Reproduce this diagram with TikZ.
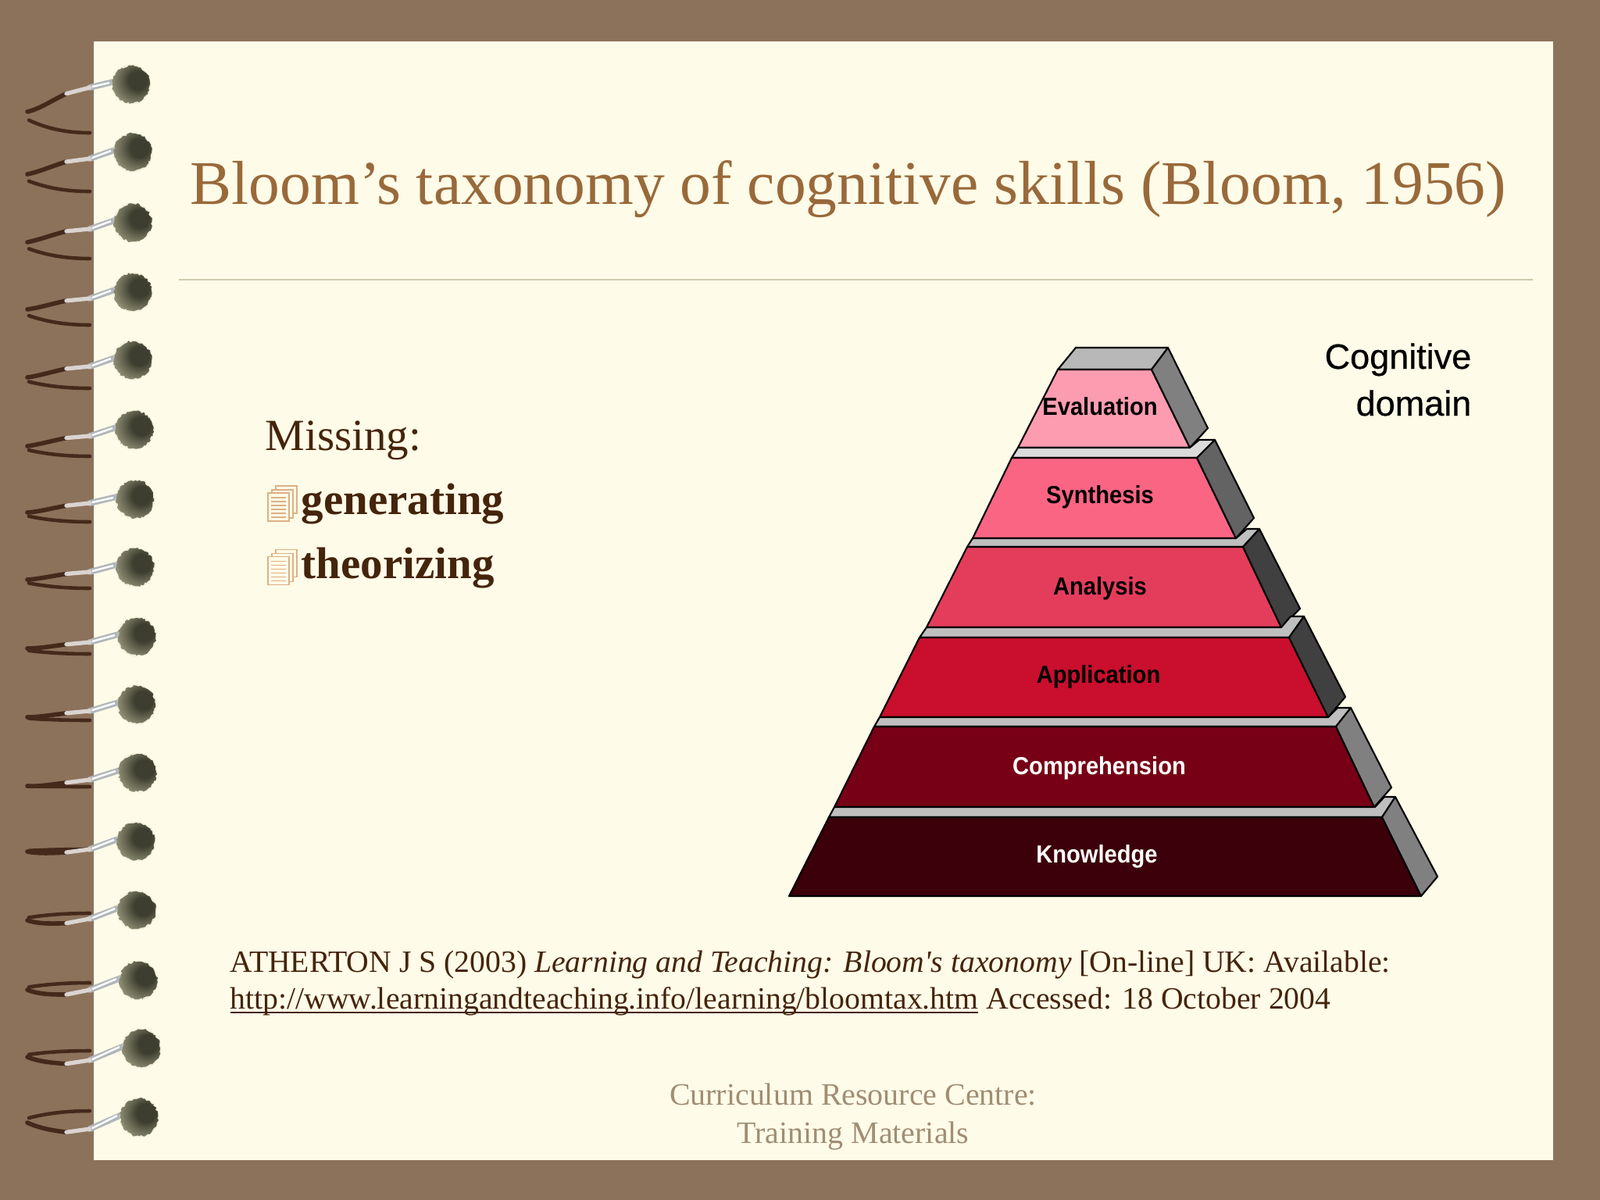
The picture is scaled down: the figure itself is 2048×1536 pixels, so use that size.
\documentclass[tikz,border=0pt]{standalone}
\usepackage{fontspec}
\setmainfont{Liberation Serif}
\newfontfamily\tierfont[FakeStretch=0.92]{Liberation Sans}
\newfontfamily\domainfont[FakeBold=0.5]{Liberation Sans}
\usepackage{xcolor}
\usepackage{tikz}
\usetikzlibrary{positioning, decorations.pathmorphing}

\definecolor{deskbrown}{HTML}{8C725B}
\definecolor{sheetcream}{HTML}{FEFBE8}
\definecolor{titlebrown}{HTML}{99693A}
\definecolor{rulegrey}{HTML}{CFCBB0}
\definecolor{inkbrown}{HTML}{45240C}
\definecolor{footbrown}{HTML}{A08D73}
\definecolor{icontan}{HTML}{DDB083}
\definecolor{wirebrown}{HTML}{45291B}
\definecolor{wiresilver}{HTML}{B0B7BB}
\definecolor{evalpink}{HTML}{FD9CB0}
\definecolor{synthpink}{HTML}{FA6584}
\definecolor{analyred}{HTML}{E43D5C}
\definecolor{applyred}{HTML}{C90F2D}
\definecolor{comprered}{HTML}{770016}
\definecolor{knowred}{HTML}{3C000A}
\definecolor{headdark}{HTML}{3E3E30}
\definecolor{headmid}{HTML}{85856C}
\definecolor{headpale}{HTML}{D8D8BC}

\pgfdeclareradialshading{headball}{\pgfpoint{10bp}{6bp}}{
  color(0bp)=(headdark); color(12bp)=(headdark); color(30bp)=(headmid);
  color(52bp)=(headpale); color(100bp)=(headpale)}

\tikzset{
  tier/.style={draw=black, line width=0.6pt, line join=round},
  tierlabel/.style={font=\tierfont\bfseries\fontsize{9}{11}\selectfont, inner sep=0pt},
  domainlabel/.style={font=\domainfont\fontsize{12.8}{15}\selectfont, inner sep=0pt, anchor=base east},
  bodytext/.style={font=\fontsize{11.29}{13}\selectfont, inner sep=0pt, anchor=base west, text=inkbrown},
  missingtext/.style={font=\fontsize{16.2}{19}\selectfont, inner sep=0pt, anchor=base west, text=inkbrown},
  foottext/.style={font=\fontsize{11.35}{13}\selectfont, inner sep=0pt, anchor=base, text=footbrown},
  docpage/.style={draw=icontan, fill=sheetcream, line width=0.35pt},
  backwire/.style={draw=wirebrown, line width=1.3pt, line cap=round},
  frontwire/.style={draw=wirebrown, line width=1.6pt, line cap=round},
  whitewire/.style={draw=white!80!wirebrown, line width=1.5pt, line cap=round},
  silverwire/.style={draw=wiresilver, line width=2.2pt, line cap=round},
}

\begin{document}
\begin{tikzpicture}[x=0.01cm, y=-0.01cm]
\useasboundingbox (0,0) rectangle (2048,1536);
\fill[deskbrown] (0,0) rectangle (2048,1536);
\fill[sheetcream] (120,53) rectangle (1988,1485);

\foreach \hx/\hy/\wf/\wt/\wb/\wk in {
  168/108/4/35/62/-3, 170/195/8/28/50/-3, 170/285/8/25/46/-3, 170/374/8/22/42/-2,
  170/461/8/22/36/-2, 172/550/8/21/34/-2, 173/639/5/17/29/-1, 173/726/6/16/27/-1,
  175/815/7/15/22/0, 175/902/8/16/20/0, 176/989/9/17/18/1, 174/1077/10/13/10/3,
  175/1165/11/13/4/5, 177/1255/12/12/3/6, 181/1342/15/11/3/6, 178/1430/15/7/-8/7} {
  \draw[backwire] (37,{\hy+\wt+0.4*(\wb-\wt)}) .. controls (60,{\hy+\wt+0.8*(\wb-\wt)}) and (85,\hy+\wb) .. (115,\hy+\wb);
  \draw[frontwire] (85,{\hy+\wf+0.35*(\wt-\wf)+\wk}) .. controls (68,{\hy+\wf+0.6*(\wt-\wf)+\wk}) and (50,\hy+\wt+\wk) .. (35,\hy+\wt);
  \draw[silverwire] (115,\hy+\wf) -- (\hx-20,\hy-4);
  \draw[whitewire] (85,{\hy+\wf+0.35*(\wt-\wf)+\wk}) -- (115,\hy+\wf);
  \draw[white, line width=0.7pt] (118,\hy+\wf-1) -- (\hx-28,\hy-2);
  \fill[headpale, opacity=0.3] (\hx,\hy) circle[radius=25.5];
  \path[decorate, decoration={random steps, segment length=0.7pt, amplitude=0.4pt}, shading=headball] (\hx,\hy) circle[radius=24];
}

\node[inner sep=0pt, anchor=base west, text=titlebrown, font=\fontsize{22.6}{26}\selectfont] (title) at (243,261) {Bloom’s taxonomy of cognitive skills (Bloom, 1956)};
\draw[rulegrey, line width=0.35pt] (229,358) -- (1962,358);

\node[missingtext] (missing) at (339,576) {Missing:};
\foreach \iy in {0,81.7} {
  \draw[docpage] (353,{622+\iy}) rectangle (380,{657+\iy});
  \draw[docpage] (348,{627+\iy}) rectangle (375,{663+\iy});
  \draw[docpage] (343,{631+\iy}) rectangle (370,{667+\iy});
  \foreach \ly in {637,642,647,652,657,662}
    \draw[icontan, line width=0.3pt] (347,{\ly+\iy}) -- (366,{\ly+\iy});
}
\node[missingtext, font=\bfseries\fontsize{16.2}{19}\selectfont] (generating) at (385,658) {generating};
\node[missingtext, font=\bfseries\fontsize{16.2}{19}\selectfont] (theorizing) at (385,740) {theorizing};

\filldraw[tier, fill=black!28] (1377,445) -- (1495,445) -- (1474,473) -- (1354,473) -- cycle;
\filldraw[tier, fill=evalpink] (1354,473) -- (1474,473) -- (1523,573) -- (1303,573) -- cycle;
\filldraw[tier, fill=black!50] (1474,473) -- (1495,445) -- (1546,548) -- (1523,573) -- cycle;
\filldraw[tier, fill=black!14] (1303,573) -- (1523,573) -- (1535,563) -- (1555,563) -- (1532,586) -- (1295,586) -- cycle;
\filldraw[tier, fill=synthpink] (1295,586) -- (1532,586) -- (1582,689) -- (1245,689) -- cycle;
\filldraw[tier, fill=black!61] (1532,586) -- (1555,563) -- (1605,663) -- (1582,689) -- cycle;
\filldraw[tier, fill=black!25] (1245,689) -- (1582,689) -- (1596,677) -- (1612,677) -- (1591,700) -- (1238,700) -- cycle;
\filldraw[tier, fill=analyred] (1238,700) -- (1591,700) -- (1640,803) -- (1186,803) -- cycle;
\filldraw[tier, fill=black!75] (1591,700) -- (1612,677) -- (1664,779) -- (1640,803) -- cycle;
\filldraw[tier, fill=black!25] (1186,803) -- (1640,803) -- (1652,789) -- (1669,789) -- (1650,816) -- (1177,816) -- cycle;
\filldraw[tier, fill=applyred] (1177,816) -- (1650,816) -- (1700,918) -- (1126,918) -- cycle;
\filldraw[tier, fill=black!75] (1650,816) -- (1669,789) -- (1722,892) -- (1700,918) -- cycle;
\filldraw[tier, fill=black!25] (1126,918) -- (1700,918) -- (1712,906) -- (1729,906) -- (1710,930) -- (1119,930) -- cycle;
\filldraw[tier, fill=comprered] (1119,930) -- (1710,930) -- (1759,1033) -- (1068,1033) -- cycle;
\filldraw[tier, fill=black!50] (1710,930) -- (1729,906) -- (1781,1008) -- (1759,1033) -- cycle;
\filldraw[tier, fill=black!25] (1068,1033) -- (1760,1033) -- (1772,1020) -- (1786,1020) -- (1769,1046) -- (1061,1046) -- cycle;
\filldraw[tier, fill=knowred] (1061,1046) -- (1769,1046) -- (1819,1147) -- (1010,1147) -- cycle;
\filldraw[tier, fill=black!50] (1769,1046) -- (1786,1020) -- (1840,1122) -- (1819,1147) -- cycle;

\node[tierlabel] (evaluation) at (1408,520) {Evaluation};
\node[tierlabel] (synthesis) at (1408,636) {Synthesis};
\node[tierlabel] (analysis) at (1408,753) {Analysis};
\node[tierlabel] (application) at (1406,866) {Application};
\node[tierlabel, text=white] (comprehension) at (1407,983) {Comprehension};
\node[tierlabel, text=white] (knowledge) at (1404,1096) {Knowledge};

\node[domainlabel] (cognitive) at (1884,472) {Cognitive};
\node[domainlabel] (domain) at (1884,532) {domain};

\node[bodytext] (citation) at (294,1244) {ATHERTON J S (2003) \textit{Learning and Teaching: Bloom\textquotesingle s taxonomy} [On-line] UK: Available:};
\node[bodytext] (link) at (294,1291) {\underline{\smash{http://www.learningandteaching.info/learning/bloomtax.htm}} Accessed: 18 October 2004};

\node[foottext] (curriculum) at (1092,1414) {Curriculum Resource Centre:};
\node[foottext] (training) at (1092,1463) {Training Materials};
\end{tikzpicture}
\end{document}
